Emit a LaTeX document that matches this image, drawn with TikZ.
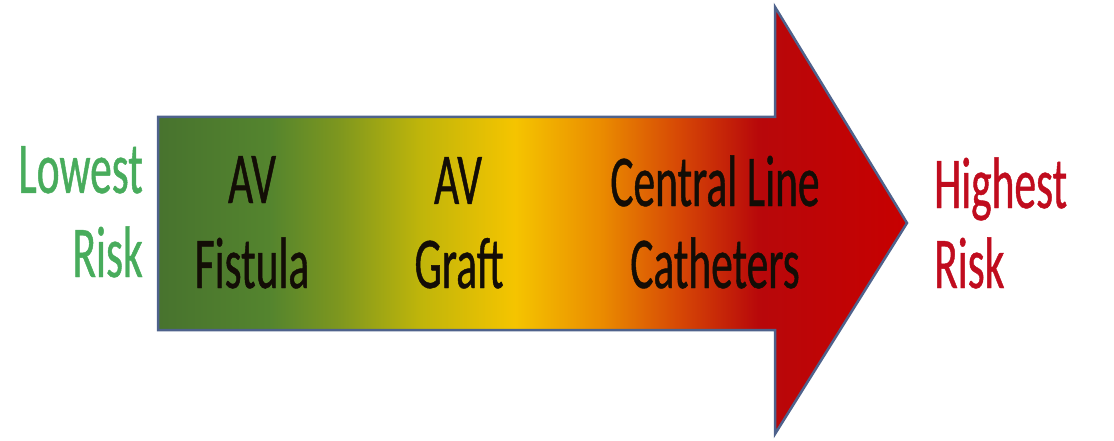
\documentclass[tikz,border=0pt]{standalone}
\usepackage{fontspec}
\newfontfamily\riskfont[FakeStretch=0.595,FakeBold=0.6]{Carlito}
\definecolor{lowgreen}{RGB}{72,172,92}
\definecolor{highred}{RGB}{192,12,30}
\definecolor{edgeblue}{RGB}{78,98,140}
\pgfdeclarehorizontalshading{riskgrad}{100bp}{%
  rgb(0bp)=(0.28,0.45,0.18);
  rgb(25bp)=(0.28,0.45,0.18);
  rgb(32.5bp)=(0.33,0.52,0.18);
  rgb(37bp)=(0.49,0.59,0.12);
  rgb(42.5bp)=(0.75,0.71,0.04);
  rgb(48.8bp)=(0.96,0.77,0.0);
  rgb(54.5bp)=(0.92,0.55,0.0);
  rgb(59.8bp)=(0.84,0.28,0.02);
  rgb(65.1bp)=(0.72,0.03,0.04);
  rgb(75bp)=(0.78,0.0,0.0);
  rgb(100bp)=(0.78,0.0,0.0)}
\tikzset{
  lbl/.style={font=\riskfont\fontsize{73}{85}\selectfont, inner sep=0pt, anchor=base},
  inner/.style={lbl, text=black!90!brown},
  lowlbl/.style={lbl, text=lowgreen, anchor=base east},
  highlbl/.style={lbl, text=highred, anchor=base west},
  riskarrow/.style={shading=riskgrad, draw=edgeblue, line width=2.5pt, line join=miter}
}
\begin{document}
\begin{tikzpicture}[x=1pt,y=-1pt]
\useasboundingbox (0,0) rectangle (1114,441);
\path[riskarrow] (158,117) -- (775,117) -- (775,7) -- (907,223) -- (775,434) -- (775,330) -- (158,330) -- cycle;
\node[lowlbl] (low1) at (143,193) {Lowest};
\node[lowlbl] (low2) at (143,277) {Risk};
\node[inner] (fis1) at (252,203) {AV};
\node[inner] (fis2) at (252,288) {Fistula};
\node[inner] (gra1) at (458,204) {AV};
\node[inner] (gra2) at (459,288) {Graft};
\node[inner] (cvc1) at (715,206) {Central Line};
\node[inner] (cvc2) at (715,288) {Catheters};
\node[highlbl] (high1) at (934,208) {Highest};
\node[highlbl] (high2) at (934,288) {Risk};
\end{tikzpicture}
\end{document}
